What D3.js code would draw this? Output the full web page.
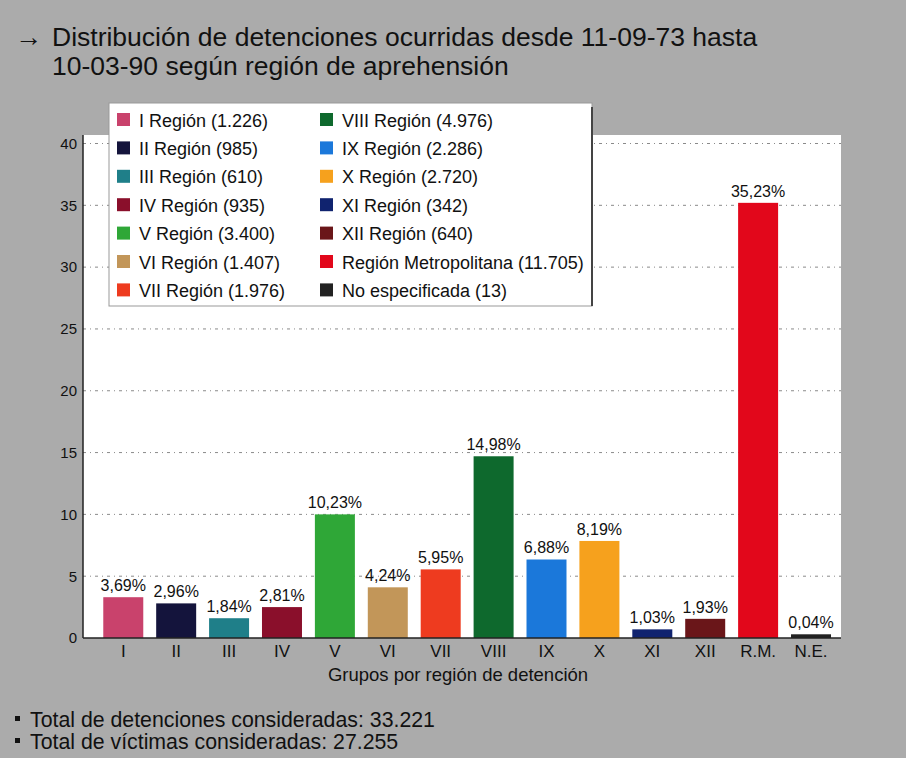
<!DOCTYPE html>
<html>
<head>
<meta charset="utf-8">
<script src="https://cdn.jsdelivr.net/npm/d3@7"></script>
<style>
  body { margin: 0; background: #acacac; }
  svg { display: block; font-family: "Liberation Sans", Arial, sans-serif; }
</style>
</head>
<body>
<div id="chart"></div>
<script>
// categories (x axis) and the legend names
var regions = ["I", "II", "III", "IV", "V", "VI", "VII", "VIII", "IX", "X", "XI", "XII", "R.M.", "N.E."];
var legendNames = ["I Región (1.226)", "II Región (985)", "III Región (610)", "IV Región (935)", "V Región (3.400)",
  "VI Región (1.407)", "VII Región (1.976)", "VIII Región (4.976)", "IX Región (2.286)", "X Región (2.720)",
  "XI Región (342)", "XII Región (640)", "Región Metropolitana (11.705)", "No especificada (13)"];
// bar heights (percent of detentions)
var barValues = [3.3, 2.8, 1.6, 2.5, 10.0, 4.1, 5.55, 14.7, 6.35, 7.85, 0.7, 1.55, 35.2, 0.3];
// labels printed over the bars
var barLabels = ["3,69%", "2,96%", "1,84%", "2,81%", "10,23%", "4,24%", "5,95%", "14,98%", "6,88%", "8,19%", "1,03%", "1,93%", "35,23%", "0,04%"];
var colors = ["#c9426c", "#14143c", "#1f7f89", "#8a0f2b", "#2fa737", "#c29659", "#ee3b1f", "#0e692d", "#1b78da", "#f6a11d", "#10236f", "#6a1619", "#e2071b", "#222222"];
var yTicks = [0, 5, 10, 15, 20, 25, 30, 35, 40];

var width = 906, height = 758;
var plotLeft = 83, plotRight = 841, plotTop = 135, plotBottom = 638;

var svg = d3.select("#chart").append("svg").attr("width", width).attr("height", height);

svg.append("rect").attr("width", width).attr("height", height).style("fill", "#ababab");

// title
svg.append("text").attr("x", 15).attr("y", 46).style("font-size", "27px").style("fill", "#111").text("\u2192");
svg.append("text").attr("x", 52).attr("y", 46).style("font-size", "26.5px").style("fill", "#111")
  .text("Distribución de detenciones ocurridas desde 11-09-73 hasta");
svg.append("text").attr("x", 52).attr("y", 75).style("font-size", "26.5px").style("fill", "#111")
  .text("10-03-90 según región de aprehensión");

var x = d3.scaleBand().domain(regions).range([plotLeft, plotRight]).paddingInner(0.244).paddingOuter(0.286).align(0.67);
var y = d3.scaleLinear().domain([0, 40]).range([plotBottom, 143.5]);

// white plot area
svg.append("rect").attr("x", plotLeft).attr("y", plotTop).attr("width", plotRight - plotLeft).attr("height", plotBottom - plotTop)
  .style("fill", "#fff");

// dotted grid
svg.selectAll(".grid").data(yTicks.slice(1)).enter().append("line")
  .attr("x1", plotLeft).attr("x2", plotRight)
  .attr("y1", function(d) { return y(d); }).attr("y2", function(d) { return y(d); })
  .style("stroke", "#8a8a8a").style("stroke-width", 1).style("stroke-dasharray", "3,4,1,4");

// y axis
var yAxis = d3.axisLeft(y).tickValues(yTicks).tickSize(0).tickPadding(6);
var gy = svg.append("g").attr("transform", "translate(" + plotLeft + ",0)").call(yAxis);
gy.select(".domain").attr("d", "M0," + plotTop + "V" + plotBottom).style("stroke", "#222").style("stroke-width", 1.5);
gy.attr("font-family", null);
gy.selectAll("text").style("font-size", "15px").style("fill", "#111");

// bars
svg.selectAll(".bar").data(barValues).enter().append("rect")
  .attr("x", function(d, i) { return x(regions[i]); })
  .attr("y", function(d) { return y(d); })
  .attr("width", x.bandwidth())
  .attr("height", function(d) { return plotBottom - y(d); })
  .style("fill", function(d, i) { return colors[i]; });

svg.selectAll(".barlabel").data(barValues).enter().append("text")
  .attr("x", function(d, i) { return x(regions[i]) + x.bandwidth() / 2; })
  .attr("y", function(d) { return y(d) - 6; })
  .attr("text-anchor", "middle").style("font-size", "16px").style("fill", "#111")
  .text(function(d, i) { return barLabels[i]; });

// x axis
var xAxis = d3.axisBottom(x).tickSize(0).tickPadding(7);
var gx = svg.append("g").attr("transform", "translate(0," + plotBottom + ")").call(xAxis);
gx.select(".domain").attr("d", "M" + plotLeft + ",0H" + plotRight).style("stroke", "#222").style("stroke-width", 1.5);
gx.attr("font-family", null);
gx.selectAll("text").style("font-size", "17px").style("fill", "#111");

svg.append("text").attr("x", 458).attr("y", 681).attr("text-anchor", "middle").style("font-size", "18.5px").style("fill", "#111")
  .text("Grupos por región de detención");

// legend
var legX = 109, legY = 103, legW = 483, legH = 203;
svg.append("rect").attr("x", legX).attr("y", legY).attr("width", legW).attr("height", legH)
  .style("fill", "#fff").style("stroke", "#999").style("stroke-width", 1);
svg.append("line").attr("x1", legX + legW).attr("x2", legX + legW).attr("y1", legY + 4).attr("y2", legY + legH)
  .style("stroke", "#444").style("stroke-width", 2);

var leg = svg.selectAll(".leg").data(legendNames).enter().append("g")
  .attr("transform", function(d, i) {
    var col = Math.floor(i / 7), row = i % 7;
    return "translate(" + (legX + 8 + col * 203) + "," + (legY + 17 + row * 28.4) + ")";
  });
leg.append("rect").attr("x", 0).attr("y", -7).attr("width", 13).attr("height", 13)
  .style("fill", function(d, i) { return colors[i]; });
leg.append("text").attr("x", 22).attr("y", 6.5).style("font-size", "18px").style("fill", "#111")
  .text(function(d) { return d; });

// totals
var notes = ["Total de detenciones consideradas: 33.221", "Total de víctimas consideradas: 27.255"];
svg.selectAll(".bullet").data(notes).enter().append("rect")
  .attr("x", 15).attr("y", function(d, i) { return 716 + i * 22; })
  .attr("width", 5).attr("height", 5).style("fill", "#111");
svg.selectAll(".note").data(notes).enter().append("text")
  .attr("x", 30).attr("y", function(d, i) { return 727 + i * 22; })
  .style("font-size", "21.3px").style("fill", "#111")
  .text(function(d) { return d; });
</script>
</body>
</html>
